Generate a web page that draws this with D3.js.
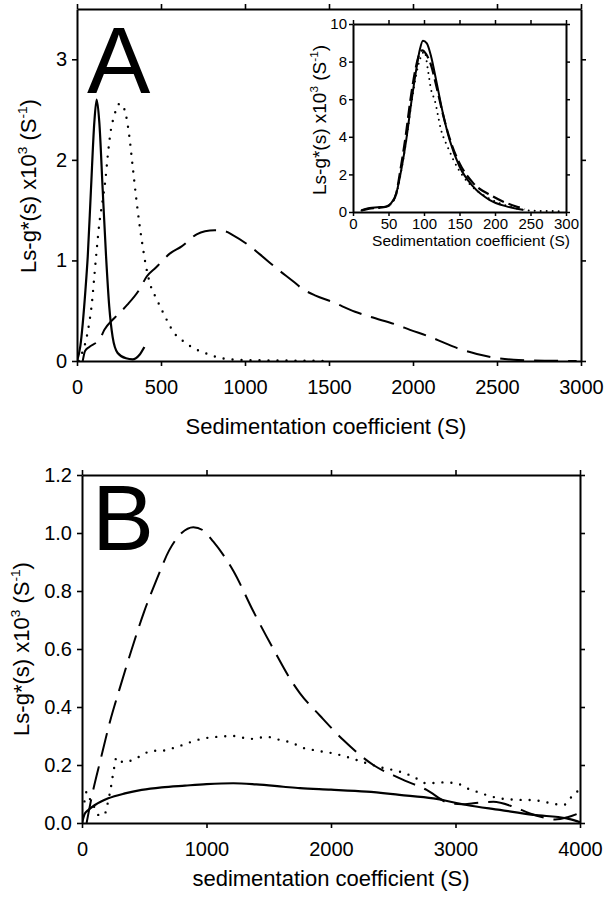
<!DOCTYPE html>
<html><head><meta charset="utf-8">
<script src="https://cdn.jsdelivr.net/npm/d3@7"></script>
<style>body{margin:0;background:#fff} text{font-family:"Liberation Sans",Arial,Helvetica,sans-serif;fill:#000}</style>
</head><body><svg id="c" width="604" height="899"></svg>
<script>
// ---------- Panel A (main) ----------
const aXTicks = [0, 500, 1000, 1500, 2000, 2500, 3000];
const aYTicks = [0, 1, 2, 3];
const aSolidS = [0, 20, 34, 50, 64, 83, 103, 117, 133, 153, 173, 192, 212, 242, 292, 331, 371, 401];
const aSolidV = [0, 0.15, 0.37, 0.7, 1.04, 1.7, 2.37, 2.6, 2.37, 1.7, 1.04, 0.54, 0.24, 0.08, 0.027, 0.017, 0.06, 0.14];
const aDotS = [10, 30, 54, 73, 89, 103, 117, 133, 153, 169, 183, 202, 222, 242, 257, 272, 292, 311, 331, 351, 371, 391, 411, 440, 470, 504, 540, 573, 623, 692, 762, 831, 930, 1050, 1200, 1350, 1480];
const aDotV = [0, 0.08, 0.21, 0.38, 0.58, 0.84, 1.1, 1.37, 1.6, 1.8, 2.04, 2.3, 2.44, 2.54, 2.56, 2.54, 2.44, 2.24, 1.94, 1.64, 1.37, 1.14, 0.94, 0.74, 0.63, 0.51, 0.39, 0.29, 0.21, 0.13, 0.08, 0.04, 0.015, 0.008, 0.005, 0.003, 0];
const aDashS = [34, 48, 73, 137, 163, 212, 236, 300, 371, 415, 470, 554, 623, 712, 762, 820, 881, 930, 1030, 1089, 1189, 1288, 1340, 1420, 1516, 1655, 1744, 1903, 1982, 2101, 2180, 2260, 2380, 2498, 2600, 2714, 2850, 2974];
const aDashV = [0, 0.1, 0.14, 0.22, 0.31, 0.41, 0.45, 0.56, 0.71, 0.84, 0.93, 1.07, 1.14, 1.26, 1.29, 1.30, 1.29, 1.25, 1.14, 1.06, 0.92, 0.79, 0.72, 0.65, 0.59, 0.49, 0.44, 0.36, 0.31, 0.24, 0.185, 0.13, 0.07, 0.03, 0.012, 0.005, 0.002, 0];

// ---------- Panel A inset ----------
const iXTicks = [0, 50, 100, 150, 200, 250, 300];
const iYTicks = [0, 2, 4, 6, 8, 10];
const iSolidS = [12, 23.5, 35, 47, 54, 61, 68, 75, 82, 89, 94, 98.5, 104, 110, 117, 126.6, 136, 150, 169, 192, 216, 239];
const iSolidV = [0.09, 0.21, 0.25, 0.3, 0.48, 1.0, 2.25, 3.84, 5.8, 7.56, 8.62, 9.11, 8.97, 8.27, 7.03, 5.26, 3.84, 2.42, 1.36, 0.65, 0.3, 0.12];
const iDashS = [12, 23, 35, 47, 54, 61, 67, 74, 81, 88, 93, 97.6, 103, 110, 118, 128, 138, 150, 169, 197, 216, 237, 242];
const iDashV = [0.08, 0.18, 0.22, 0.28, 0.45, 1.0, 2.3, 4.0, 6.0, 7.6, 8.35, 8.6, 8.4, 7.8, 6.6, 5.0, 3.7, 2.6, 1.55, 0.83, 0.48, 0.21, 0.15];
const iDotS = [12, 23, 35, 47, 54, 61, 68, 75, 82, 89, 95, 100.8, 105.5, 110, 115, 124, 134, 148, 165, 190, 215, 240, 260, 280, 298];
const iDotV = [0.08, 0.18, 0.22, 0.28, 0.45, 0.95, 2.2, 3.8, 5.7, 7.3, 8.2, 8.53, 7.56, 6.5, 5.96, 4.37, 3.4, 2.3, 1.45, 0.75, 0.35, 0.12, 0.06, 0.05, 0.04];

// ---------- Panel B ----------
const bXTicks = [0, 1000, 2000, 3000, 4000];
const bYTicks = [0, 0.2, 0.4, 0.6, 0.8, 1.0, 1.2];
const bSolidS = [0, 20, 51, 104, 211, 345, 479, 640, 827, 1000, 1215, 1400, 1617, 1751, 2000, 2286, 2550, 2822, 3090, 3357, 3625, 3893, 3985, 4000];
const bSolidV = [0, 0.03, 0.045, 0.062, 0.085, 0.102, 0.114, 0.123, 0.129, 0.134, 0.137, 0.133, 0.125, 0.12, 0.115, 0.108, 0.097, 0.085, 0.062, 0.045, 0.028, 0.016, 0.005, 0.003];
const bDashS = [37, 78, 150, 225, 300, 400, 500, 600, 700, 800, 894, 970, 1055, 1215, 1376, 1537, 1697, 1751, 1912, 2099, 2340, 2554, 2768, 2956, 3050, 3143, 3304, 3465, 3598, 3700, 3800, 3900, 3986];
const bDashV = [0, 0.09, 0.22, 0.35, 0.46, 0.60, 0.73, 0.84, 0.94, 1.0, 1.02, 1.01, 0.97, 0.87, 0.73, 0.60, 0.48, 0.447, 0.37, 0.286, 0.20, 0.154, 0.114, 0.068, 0.065, 0.068, 0.073, 0.056, 0.033, 0.02, 0.012, 0.02, 0.033];
const bDotS = [0, 19, 37, 55, 91, 131, 179, 203, 219, 233, 246, 260, 276, 332, 404, 479, 560, 640, 720, 795, 880, 960, 1082, 1215, 1350, 1483, 1600, 1697, 1751, 1880, 2019, 2150, 2286, 2420, 2554, 2660, 2768, 2900, 3009, 3090, 3170, 3260, 3357, 3500, 3625, 3750, 3866, 3973, 4000];
const bDotV = [0.045, 0.073, 0.108, 0.09, 0.062, 0.028, 0.028, 0.062, 0.093, 0.125, 0.16, 0.194, 0.226, 0.209, 0.217, 0.233, 0.249, 0.249, 0.257, 0.267, 0.28, 0.29, 0.297, 0.30, 0.29, 0.297, 0.285, 0.275, 0.263, 0.25, 0.24, 0.225, 0.206, 0.19, 0.177, 0.16, 0.137, 0.14, 0.137, 0.12, 0.108, 0.095, 0.085, 0.08, 0.079, 0.07, 0.062, 0.108, 0.11];

const svg = d3.select("#c");
const FONT = '"Liberation Sans",Arial,Helvetica,sans-serif';

const zip = (s, v) => s.map((d, i) => [d, v[i]]);

function curve(g, x, y, s, v, style) {
  const line = d3.line().x(d => x(d[0])).y(d => y(d[1])).curve(d3.curveMonotoneX);
  const p = g.append("path").datum(zip(s, v)).attr("d", line)
    .attr("fill", "none").attr("stroke", "#000").attr("stroke-width", style.w || 2)
    .attr("stroke-linejoin", "round");
  if (style.dash) p.attr("stroke-dasharray", style.dash);
  if (style.dot) p.attr("stroke-dasharray", style.dot).attr("stroke-linecap", "round");
  return p;
}

function axes(g, x, y, xt, yt, o) {
  const styleAxis = a => {
    a.attr("font-family", FONT).attr("font-size", o.fs);
    a.select(".domain").attr("stroke-width", o.dw);
    a.selectAll(".tick line").attr("stroke-width", o.tw);
    a.selectAll("text").attr("fill", "#000");
  };
  const [x0, x1] = x.range(), [y0, y1] = y.range();
  g.append("g").attr("transform", `translate(0,${y0})`)
    .call(d3.axisBottom(x).tickValues(xt).tickSize(o.ts).tickSizeOuter(0).tickPadding(o.xpad).tickFormat(o.xf || d3.format("d")))
    .call(styleAxis);
  g.append("g").attr("transform", `translate(0,${y1})`)
    .call(d3.axisTop(x).tickValues(xt).tickSize(o.ts).tickSizeOuter(0).tickFormat(""))
    .call(styleAxis);
  g.append("g").attr("transform", `translate(${x0},0)`)
    .call(d3.axisLeft(y).tickValues(yt).tickSize(o.ts).tickSizeOuter(0).tickPadding(o.ypad).tickFormat(o.yf || d3.format("d")))
    .call(styleAxis);
  g.append("g").attr("transform", `translate(${x1},0)`)
    .call(d3.axisRight(y).tickValues(yt).tickSize(o.ts).tickSizeOuter(0).tickFormat(""))
    .call(styleAxis);
}

function yTitle(g, cx, cy, size) {
  const t = g.append("text").attr("transform", `translate(${cx},${cy}) rotate(-90)`)
    .attr("text-anchor", "middle").attr("font-size", size);
  const up = size * 0.42, ss = size * 0.62;
  t.append("tspan").text("Ls-g*(s) x10");
  t.append("tspan").attr("dy", -up).attr("font-size", ss).text("3");
  t.append("tspan").attr("dy", up).text(" (S");
  t.append("tspan").attr("dy", -up).attr("font-size", ss).text("-1");
  t.append("tspan").attr("dy", up).text(")");
}

// ===== Panel A =====
const xA = d3.scaleLinear().domain([0, 3000]).range([77, 581]);
const yA = d3.scaleLinear().domain([0, 3.5]).range([361, 9]);
const gA = svg.append("g");
svg.append("clipPath").attr("id", "clipA").append("rect").attr("x", 77).attr("y", 9).attr("width", 504).attr("height", 352);
const cA = gA.append("g").attr("clip-path", "url(#clipA)");
curve(cA, xA, yA, aDashS, aDashV, { dash: "24,10", w: 2 });
curve(cA, xA, yA, aDotS, aDotV, { dot: "0,9", w: 2.4 });
curve(cA, xA, yA, aSolidS, aSolidV, { w: 2.2 });
axes(gA, xA, yA, aXTicks, aYTicks, { fs: 20, dw: 2, tw: 1.6, ts: 5, xpad: 14, ypad: 5 });
gA.append("text").attr("x", 326).attr("y", 434).attr("text-anchor", "middle").attr("font-size", 22).text("Sedimentation coefficient (S)");
yTitle(gA, 36, 186, 22);
gA.append("text").attr("x", 87).attr("y", 93).attr("font-size", 95).text("A");

// ===== Inset =====
const xI = d3.scaleLinear().domain([0, 300]).range([353, 566]);
const yI = d3.scaleLinear().domain([0, 10]).range([212, 24]);
const gI = svg.append("g");
gI.append("rect").attr("x", 353).attr("y", 24).attr("width", 213).attr("height", 188).attr("fill", "#fff");
svg.append("clipPath").attr("id", "clipI").append("rect").attr("x", 353).attr("y", 24).attr("width", 213).attr("height", 188);
const cI = gI.append("g").attr("clip-path", "url(#clipI)");
curve(cI, xI, yI, iDotS, iDotV, { dot: "0,6", w: 2 });
curve(cI, xI, yI, iDashS, iDashV, { dash: "12,5", w: 2.2 });
curve(cI, xI, yI, iSolidS, iSolidV, { w: 2 });
axes(gI, xI, yI, iXTicks, iYTicks, { fs: 15, dw: 2, tw: 1.5, ts: 4, xpad: 2, ypad: 2 });
gI.append("text").attr("x", 471).attr("y", 246).attr("text-anchor", "middle").attr("font-size", 15.5).text("Sedimentation coefficient (S)");
yTitle(gI, 326, 120, 19);

// ===== Panel B =====
const xB = d3.scaleLinear().domain([0, 4000]).range([82, 580]);
const yB = d3.scaleLinear().domain([0, 1.2]).range([823, 475]);
const gB = svg.append("g");
svg.append("clipPath").attr("id", "clipB").append("rect").attr("x", 82).attr("y", 475).attr("width", 498).attr("height", 348);
const cB = gB.append("g").attr("clip-path", "url(#clipB)");
curve(cB, xB, yB, bDashS, bDashV, { dash: "24,10", w: 2 });
curve(cB, xB, yB, bDotS, bDotV, { dot: "0,9", w: 2.4 });
curve(cB, xB, yB, bSolidS, bSolidV, { w: 2.2 });
axes(gB, xB, yB, bXTicks, bYTicks, { fs: 20, dw: 2, tw: 1.6, ts: 5, xpad: 14, ypad: 5, yf: d3.format(".1f") });
gB.append("text").attr("x", 331).attr("y", 886).attr("text-anchor", "middle").attr("font-size", 22).text("sedimentation coefficient (S)");
yTitle(gB, 29, 649, 22);
gB.append("text").attr("x", 92).attr("y", 550).attr("font-size", 93).text("B");
</script></body></html>
